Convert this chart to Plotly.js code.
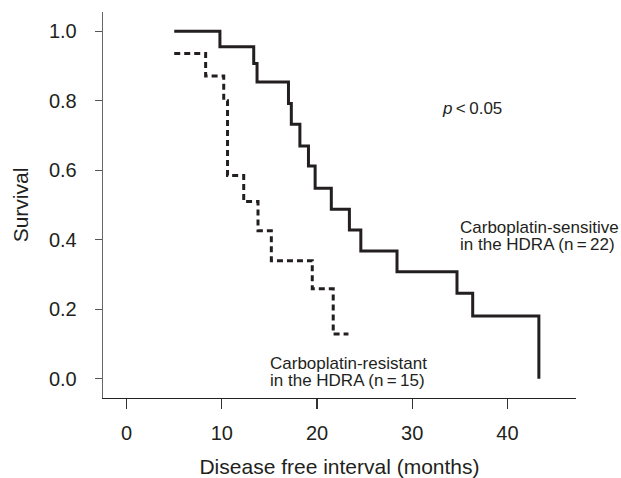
<!DOCTYPE html>
<html>
<head>
<meta charset="utf-8">
<script src="https://cdn.plot.ly/plotly-3.0.1.min.js"></script>
<style>html,body{margin:0;padding:0;background:#fff;}#chart{width:621px;height:478px;}</style>
</head>
<body>
<div id="chart"></div>
<script>
// Carboplatin-sensitive in the HDRA (n = 22): step times (months) and survival
const sensitiveTime = [5, 9.8, 13.35, 13.7, 17.0, 17.3, 18.2, 19.1, 19.8, 21.5, 23.4, 24.6, 28.4, 34.7, 36.35, 43.3];
const sensitiveSurv = [1.0, 0.955, 0.907, 0.854, 0.792, 0.732, 0.670, 0.612, 0.548, 0.488, 0.428, 0.368, 0.308, 0.246, 0.181, 0.0];

// Carboplatin-resistant in the HDRA (n = 15)
const resistantTime = [5, 8.3, 10.2, 10.6, 12.3, 13.8, 15.2, 19.5, 21.7, 23.3];
const resistantSurv = [0.936, 0.871, 0.80, 0.585, 0.51, 0.426, 0.34, 0.259, 0.129, 0.129];

const xTicks = [0, 10, 20, 30, 40];
const yTicks = [0.0, 0.2, 0.4, 0.6, 0.8, 1.0];
const yTickText = ["0.0", "0.2", "0.4", "0.6", "0.8", "1.0"];

const ink = "#231f20";
const fontFam = "Liberation Sans, Arial, Helvetica, sans-serif";

const traces = [
  {
    x: sensitiveTime, y: sensitiveSurv, type: "scatter", mode: "lines",
    line: {shape: "hv", color: ink, width: 3},
    name: "Carboplatin-sensitive", hoverinfo: "x+y"
  },
  {
    x: resistantTime, y: resistantSurv, type: "scatter", mode: "lines",
    line: {shape: "hv", color: ink, width: 3, dash: "6px,4px"},
    name: "Carboplatin-resistant", hoverinfo: "x+y"
  }
];

function big(s) { return '<span style="font-size:17px">' + s + '</span>'; }

const layout = {
  width: 621, height: 478,
  margin: {l: 103, r: 45, t: 12, b: 80},
  paper_bgcolor: "#fff", plot_bgcolor: "#fff",
  showlegend: false,
  font: {family: fontFam, color: ink, size: 18},
  xaxis: {
    range: [-2.48, 47.2],
    tickvals: xTicks, ticktext: xTicks.map(String),
    ticks: "outside", ticklen: 10, tickwidth: 1.2, tickcolor: "#333",
    showline: true, linecolor: "#222", linewidth: 1.3,
    showgrid: false, zeroline: false,
    tickfont: {size: 20, family: fontFam, color: ink},
    ticklabelstandoff: 7,
    title: {text: "Disease free interval (months)", font: {size: 21, family: fontFam, color: ink}, standoff: 16}
  },
  yaxis: {
    range: [-0.055, 1.055],
    tickvals: yTicks, ticktext: yTickText,
    ticks: "outside", ticklen: 7, tickwidth: 1.2, tickcolor: "#555",
    showline: true, linecolor: "#666", linewidth: 1.3,
    showgrid: false, zeroline: false,
    tickfont: {size: 20, family: fontFam, color: ink},
    ticklabelstandoff: 14,
    title: {text: "Survival", font: {size: 21, family: fontFam, color: ink}, standoff: 14}
  },
  annotations: [
    {xref: "paper", yref: "paper", x: (440 - 103) / 473, y: (398.3 - 108) / 386.6, xanchor: "left", yanchor: "middle",
     text: "<i>p</i>\u2009&lt;\u20090.05", showarrow: false, font: {size: 17, family: fontFam, color: ink}},
    {xref: "paper", yref: "paper", x: (457.5 - 103) / 473, y: (398.3 - 236.5) / 386.6, xanchor: "left", yanchor: "middle", align: "left",
     text: big("Carboplatin-sensitive") + "<br>" + big("in the HDRA (n\u2009=\u200922)"),
     showarrow: false, font: {size: 12.8, family: fontFam, color: ink}},
    {xref: "paper", yref: "paper", x: (267.5 - 103) / 473, y: (398.3 - 371.8) / 386.6, xanchor: "left", yanchor: "middle", align: "left",
     text: big("Carboplatin-resistant") + "<br>" + big("in the HDRA (n\u2009=\u200915)"),
     showarrow: false, font: {size: 12.8, family: fontFam, color: ink}}
  ]
};

Plotly.newPlot("chart", traces, layout, {displayModeBar: false, staticPlot: true});
</script>
</body>
</html>
